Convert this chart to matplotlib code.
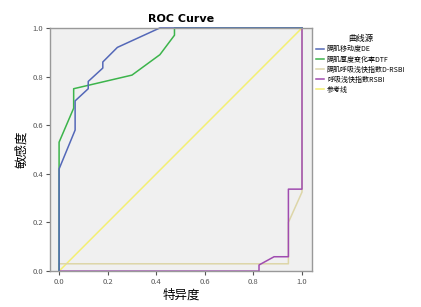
import matplotlib
matplotlib.use("Agg")
import matplotlib.pyplot as plt

plt.rcParams['font.family'] = ['Noto Sans CJK SC', 'DejaVu Sans']

# ROC curves (1 - specificity, sensitivity)
de_x = [0, 0, 0.066, 0.066, 0.12, 0.12, 0.18, 0.18, 0.24, 0.415, 1.0]
de_y = [0, 0.42, 0.58, 0.70, 0.75, 0.78, 0.835, 0.86, 0.92, 1.0, 1.0]

dtf_x = [0, 0, 0, 0.06, 0.06, 0.30, 0.415, 0.475, 0.475, 1.0]
dtf_y = [0, 0.03, 0.53, 0.67, 0.75, 0.806, 0.89, 0.97, 1.0, 1.0]

drsbi_x = [0, 0, 0.944, 0.944, 1.0, 1.0]
drsbi_y = [0, 0.03, 0.03, 0.20, 0.325, 1.0]

rsbi_x = [0, 0.823, 0.823, 0.885, 0.944, 0.944, 1.0, 1.0]
rsbi_y = [0, 0, 0.025, 0.059, 0.059, 0.337, 0.337, 1.0]

ref_x = [0, 1]
ref_y = [0, 1]

labels = ["膈肌移动度DE", "膈肌厚度变化率DTF", "膈肌呼吸浅快指数D-RSBI", "呼吸浅快指数RSBI", "参考线"]
colors = ["#5468b8", "#3cb44b", "#ddd6a8", "#a04cb0", "#f3ef72"]

fig = plt.figure(figsize=(4.21, 3.07), dpi=100)
ax = fig.add_axes([0.119, 0.117, 0.622, 0.792])
ax.set_facecolor("#f0f0f0")

series = [(de_x, de_y), (dtf_x, dtf_y), (drsbi_x, drsbi_y), (rsbi_x, rsbi_y), (ref_x, ref_y)]
order = [4, 2, 3, 1, 0]
lines = {}
for i in order:
    x, y = series[i]
    lines[i], = ax.plot(x, y, color=colors[i], lw=1.1, label=labels[i], clip_on=False)

ax.set_xlim(-0.037, 1.041)
ax.set_ylim(0, 1)
ax.set_xticks([0, 0.2, 0.4, 0.6, 0.8, 1.0])
ax.set_yticks([0, 0.2, 0.4, 0.6, 0.8, 1.0])
ax.set_xticklabels(["0.0", "0.2", "0.4", "0.6", "0.8", "1.0"])
ax.set_yticklabels(["0.0", "0.2", "0.4", "0.6", "0.8", "1.0"])
ax.tick_params(labelsize=5.5, labelcolor="#555555", length=3, width=0.8, color="#555555", pad=2)
for s in ax.spines.values():
    s.set_color("#999999")
    s.set_linewidth(1.0)

ax.set_title("ROC Curve", fontsize=8, fontweight="bold", family="DejaVu Sans", pad=4)
ax.set_xlabel("特异度", fontsize=9, labelpad=2)
ax.set_ylabel("敏感度", fontsize=9, labelpad=3)

leg = ax.legend([lines[i] for i in range(5)], labels, title="曲线源", fontsize=5, title_fontsize=6,
                loc="upper left", bbox_to_anchor=(1.005, 0.985), frameon=False,
                handlelength=1.2, handletextpad=0.4, labelspacing=0.3, borderaxespad=0)

fig.savefig("out.png", dpi=100)
